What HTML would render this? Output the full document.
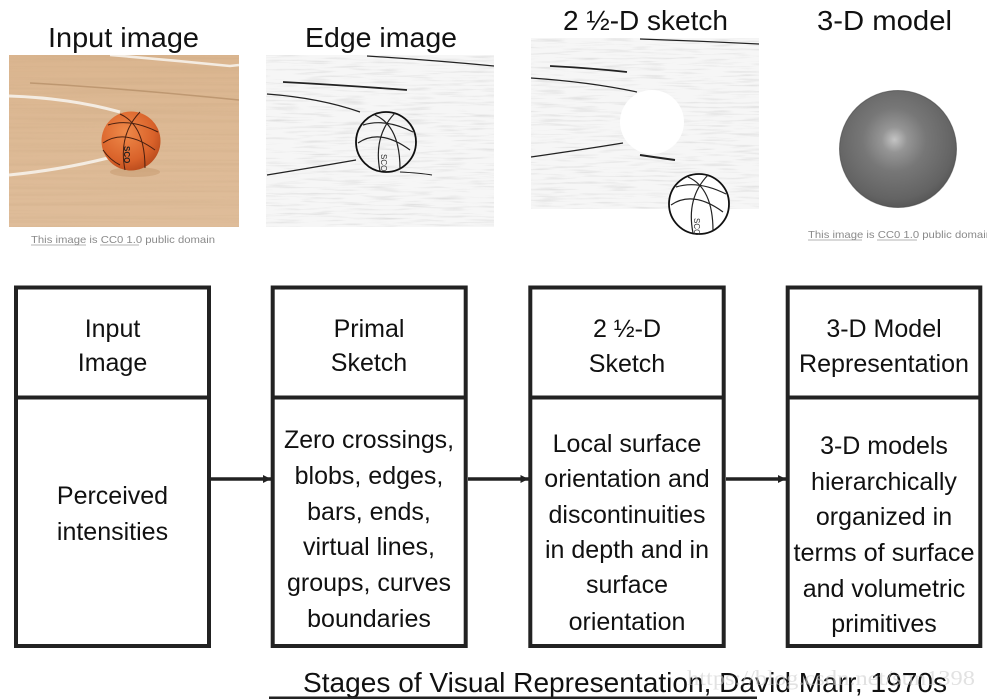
<!DOCTYPE html>
<html><head><meta charset="utf-8"><style>
html,body{margin:0;padding:0;background:#fff;}
svg{display:block;}
</style></head><body>
<svg width="987" height="699" viewBox="0 0 987 699" xmlns="http://www.w3.org/2000/svg" font-family="Liberation Sans, DejaVu Sans, sans-serif">
<defs>
  <filter id="grain" x="0" y="0" width="100%" height="100%">
    <feTurbulence type="fractalNoise" baseFrequency="0.004 0.3" numOctaves="2" seed="3"/>
    <feColorMatrix type="matrix" values="0 0 0 0 0.5  0 0 0 0 0.33  0 0 0 0 0.18  0 0 0 1.4 -0.6"/>
  </filter>
  <filter id="noise" x="0" y="0" width="100%" height="100%">
    <feTurbulence type="fractalNoise" baseFrequency="0.03 0.45" numOctaves="2" seed="7"/>
    <feColorMatrix type="matrix" values="0 0 0 0 0.35  0 0 0 0 0.35  0 0 0 0 0.35  0 0 0 1.6 -0.78"/>
  </filter>
  <radialGradient id="ballg" cx="0.4" cy="0.35" r="0.7">
    <stop offset="0" stop-color="#ef8a4a"/>
    <stop offset="0.7" stop-color="#d9622a"/>
    <stop offset="1" stop-color="#b84a1c"/>
  </radialGradient>
  <radialGradient id="sphg" cx="0.47" cy="0.42" r="0.6">
    <stop offset="0" stop-color="#c4c4c4"/>
    <stop offset="0.18" stop-color="#959595"/>
    <stop offset="0.45" stop-color="#777"/>
    <stop offset="0.85" stop-color="#636363"/>
    <stop offset="1" stop-color="#555"/>
  </radialGradient>
  <linearGradient id="floor" x1="0" y1="0" x2="0" y2="1">
    <stop offset="0" stop-color="#dbb690"/>
    <stop offset="1" stop-color="#dfbd9a"/>
  </linearGradient>
  <marker id="ah" viewBox="0 0 10 10" refX="10" refY="5" markerWidth="8" markerHeight="8" markerUnits="userSpaceOnUse" orient="auto">
    <path d="M0,0 L10,5 L0,10 z" fill="#222"/>
  </marker>
  <clipPath id="c1"><rect x="9" y="55" width="230" height="172"/></clipPath>
  <clipPath id="c2"><rect x="266" y="55" width="228" height="172"/></clipPath>
  <clipPath id="c3"><rect x="531" y="38" width="228" height="171"/></clipPath>
</defs>

<!-- Top headings -->
<g fill="#111" font-size="28">
  <text x="48" y="47" textLength="151" lengthAdjust="spacingAndGlyphs">Input image</text>
  <text x="305" y="47" textLength="152" lengthAdjust="spacingAndGlyphs">Edge image</text>
  <text x="563" y="30" textLength="165" lengthAdjust="spacingAndGlyphs">2 ½-D sketch</text>
  <text x="817" y="30" textLength="135" lengthAdjust="spacingAndGlyphs">3-D model</text>
</g>

<!-- Input image -->
<g clip-path="url(#c1)">
  <rect x="9" y="55" width="230" height="172" fill="url(#floor)"/>
  <rect x="9" y="55" width="230" height="172" filter="url(#grain)" opacity="0.35"/>
  <path d="M30,83 Q120,88 239,100" stroke="#a27a52" stroke-width="1.5" fill="none" opacity="0.5"/>
  <path d="M110,55 Q170,60 230,66 L239,65" stroke="#f4ece2" stroke-width="2.5" fill="none"/>
  <path d="M9,96 Q70,98 120,112" stroke="#f4ece2" stroke-width="3" fill="none"/>
  <path d="M9,175 Q60,170 108,158" stroke="#f4ece2" stroke-width="3" fill="none"/>
  <ellipse cx="135" cy="172" rx="25" ry="5" fill="#c09064" opacity="0.4"/>
  <circle cx="131" cy="141" r="29.5" fill="url(#ballg)"/>
  <g stroke="#4a2010" stroke-width="1" fill="none">
    <path d="M108,125 Q130,118 158,132"/>
    <path d="M103,143 Q125,128 155,150"/>
    <path d="M140,112 Q118,135 125,170"/>
    <path d="M120,114 Q145,125 145,168"/>
    <path d="M103,150 Q110,160 120,165"/>
  </g>
  <text x="120" y="150" font-size="8" font-weight="bold" fill="#222" transform="rotate(90 124 150)">SCO</text>
</g>
<text x="31" y="243" font-size="10.5" fill="#8a8a8a" textLength="184" lengthAdjust="spacingAndGlyphs">This image is CC0 1.0 public domain</text>
<g stroke="#9a9a9a" stroke-width="0.8"><line x1="31" y1="245" x2="86" y2="245"/><line x1="100" y1="245" x2="139" y2="245"/></g>

<!-- Edge image -->
<g clip-path="url(#c2)">
  <rect x="266" y="55" width="228" height="172" fill="#f6f6f6"/>
  <rect x="266" y="55" width="228" height="172" filter="url(#noise)" opacity="0.4"/>
  <g stroke="#222" fill="none">
    <path d="M367,56 Q430,60 494,66" stroke-width="1.2"/>
    <path d="M283,82 Q340,85 407,90" stroke-width="1.8"/>
    <path d="M267,94 Q320,98 360,112" stroke-width="1.2"/>
    <path d="M267,175 Q310,168 356,160" stroke-width="1.2"/>
    <path d="M400,172 Q420,173 432,175" stroke-width="1"/>
  </g>
  <circle cx="386" cy="142" r="30" fill="none" stroke="#111" stroke-width="1.8"/>
  <g stroke="#222" stroke-width="1.2" fill="none">
    <path d="M363,125 Q385,118 413,132"/>
    <path d="M358,143 Q380,128 410,150"/>
    <path d="M395,113 Q373,136 380,171"/>
    <path d="M375,115 Q400,126 400,169"/>
  </g>
  <text x="377" y="158" font-size="8" fill="#333" transform="rotate(90 381 158)">SCO</text>
</g>

<!-- 2.5D sketch image -->
<g clip-path="url(#c3)">
  <rect x="531" y="38" width="228" height="171" fill="#f6f6f6"/>
  <rect x="531" y="38" width="228" height="171" filter="url(#noise)" opacity="0.4"/>
  <g stroke="#222" fill="none">
    <path d="M640,39 Q700,41 759,44" stroke-width="1.2"/>
    <path d="M550,66 Q590,68 627,72" stroke-width="1.8"/>
    <path d="M531,78 Q590,82 637,92" stroke-width="1.2"/>
    <path d="M531,157 Q580,150 623,143" stroke-width="1.2"/>
    <path d="M640,155 Q660,158 675,160" stroke-width="2"/>
  </g>
</g>
<circle cx="652" cy="122" r="32" fill="#fff"/>
<circle cx="699" cy="204" r="30" fill="#fff" stroke="#111" stroke-width="1.8"/>
<g stroke="#222" stroke-width="1.2" fill="none">
  <path d="M676,187 Q698,180 726,194"/>
  <path d="M671,205 Q693,190 723,212"/>
  <path d="M708,175 Q686,198 693,233"/>
  <path d="M688,177 Q713,188 713,231"/>
</g>
<text x="690" y="222" font-size="8" fill="#333" transform="rotate(90 694 222)">SCO</text>

<!-- 3D model -->
<circle cx="898" cy="149" r="58.5" fill="url(#sphg)"/>
<circle cx="898" cy="149" r="58.5" fill="none" stroke="#444" stroke-width="1" opacity="0.6"/>
<text x="808" y="238" font-size="10.5" fill="#8a8a8a" textLength="184" lengthAdjust="spacingAndGlyphs">This image is CC0 1.0 public domain</text>
<g stroke="#9a9a9a" stroke-width="0.8"><line x1="808" y1="240" x2="862" y2="240"/><line x1="877" y1="240" x2="917" y2="240"/></g>

<!-- Boxes -->
<g fill="none" stroke="#222" stroke-width="4">
  <rect x="16" y="287.5" width="193" height="358.5"/>
  <line x1="16" y1="397.5" x2="209" y2="397.5"/>
  <rect x="272.7" y="287.5" width="193" height="358.5"/>
  <line x1="272.7" y1="397.5" x2="465.7" y2="397.5"/>
  <rect x="530.3" y="287.5" width="193.4" height="358.5"/>
  <line x1="530.3" y1="397.5" x2="723.7" y2="397.5"/>
  <rect x="787.7" y="287.5" width="192.6" height="358.5"/>
  <line x1="787.7" y1="397.5" x2="980.3" y2="397.5"/>
</g>

<!-- Arrows -->
<g stroke="#222" stroke-width="3.5" fill="none">
  <line x1="211" y1="479" x2="271" y2="479" marker-end="url(#ah)"/>
  <line x1="468" y1="479" x2="528.5" y2="479" marker-end="url(#ah)"/>
  <line x1="726" y1="479" x2="786" y2="479" marker-end="url(#ah)"/>
</g>

<!-- Box text -->
<g fill="#111" font-size="25" text-anchor="middle">
  <text x="112.5" y="337">Input</text>
  <text x="112.5" y="371">Image</text>
  <text x="112.5" y="504">Perceived</text>
  <text x="112.5" y="540">intensities</text>

  <text x="369" y="337">Primal</text>
  <text x="369" y="371">Sketch</text>
  <text x="369" y="448" textLength="170" lengthAdjust="spacingAndGlyphs">Zero crossings,</text>
  <text x="369" y="484">blobs, edges,</text>
  <text x="369" y="520">bars, ends,</text>
  <text x="369" y="555">virtual lines,</text>
  <text x="369" y="591">groups, curves</text>
  <text x="369" y="627">boundaries</text>

  <text x="627" y="337">2 ½-D</text>
  <text x="627" y="372">Sketch</text>
  <text x="627" y="452">Local surface</text>
  <text x="627" y="487">orientation and</text>
  <text x="627" y="523">discontinuities</text>
  <text x="627" y="558">in depth and in</text>
  <text x="627" y="593">surface</text>
  <text x="627" y="630">orientation</text>

  <text x="884" y="337">3-D Model</text>
  <text x="884" y="372" textLength="170" lengthAdjust="spacingAndGlyphs">Representation</text>
  <text x="884" y="454">3-D models</text>
  <text x="884" y="490">hierarchically</text>
  <text x="884" y="525">organized in</text>
  <text x="884" y="561" textLength="181" lengthAdjust="spacingAndGlyphs">terms of surface</text>
  <text x="884" y="597">and volumetric</text>
  <text x="884" y="632">primitives</text>
</g>

<!-- Bottom title -->
<text x="303" y="692" font-size="28" fill="#111" textLength="644" lengthAdjust="spacingAndGlyphs">Stages of Visual Representation, David Marr, 1970s</text>
<text x="687" y="685" font-size="21" fill="#cfcfcf" opacity="0.6" font-family="Liberation Serif, serif" textLength="288" lengthAdjust="spacingAndGlyphs">https://blog.csdn.net/sun1398</text>
<line x1="269" y1="698" x2="757" y2="698" stroke="#222" stroke-width="3"/>
</svg>
</body></html>
